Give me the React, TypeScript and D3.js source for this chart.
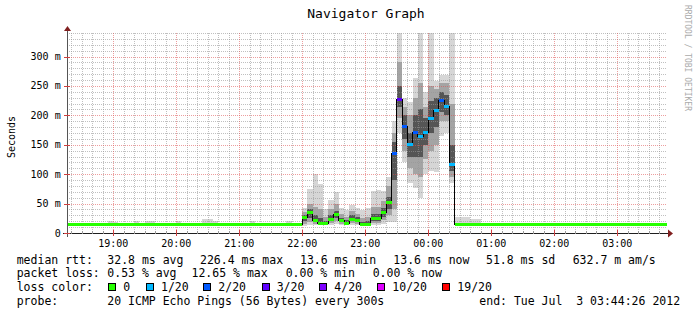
import React from 'react';
import * as d3 from 'd3';

const W = 697;
const H = 315;

const title = 'Navigator Graph';
const yAxisLabel = 'Seconds';
const watermark = 'RRDTOOL / TOBI OETIKER';

const yTickValues = [0, 50, 100, 150, 200, 250, 300];
const yTickLabels = ['0', '50 m', '100 m', '150 m', '200 m', '250 m', '300 m'];
const xTickHours = [19, 20, 21, 22, 23, 0, 1, 2, 3];
const xTickLabels = ['19:00', '20:00', '21:00', '22:00', '23:00', '00:00', '01:00', '02:00', '03:00'];

// 5-minute steps starting 2012-07-02 18:15
const stepStart = new Date(2012, 6, 2, 18, 15, 0);
const stepMinutes = 5;

// median rtt (ms) per step
const medianMs = [
  14, 14, 14, 14, 14, 14, 14, 14, 14, 14, 14, 14, 14, 14, 14,
  14, 14, 14, 14, 14, 14, 14, 14, 14, 14, 14, 14, 14, 14, 14,
  14, 14, 14, 14, 14, 14, 14, 14, 14, 14, 14, 14, 14, 14, 14,
  27, 34.5, 21, 16.4, 16.4, 23.7, 31.6, 21.5, 16.4, 23.7, 22, 14, 14, 25.4, 25.4,
  35, 52, 136, 226.4, 181, 150, 171, 164, 171, 194, 208.5, 225, 215, 116,
  14, 14, 14, 14, 14, 14, 14, 14, 14, 14, 14, 14, 14, 14, 14, 14, 14, 14, 14, 14,
  14, 14, 14, 14, 14, 14, 14, 14, 14, 14, 14, 14, 14, 14, 14, 14, 14, 14, 14, 14, 14,
];

// lost pings out of 20, per step
const lossCount = [
  0, 0, 0, 0, 0, 0, 0, 0, 0, 0, 0, 0, 0, 0, 0,
  0, 0, 0, 0, 0, 0, 0, 0, 0, 0, 0, 0, 0, 0, 0,
  0, 0, 0, 0, 0, 0, 0, 0, 0, 0, 0, 0, 0, 0, 0,
  0, 0, 0, 0, 0, 0, 0, 0, 0, 0, 0, 0, 0, 0, 0,
  0, 0, 2, 3, 2, 1, 2, 1, 1, 1, 1, 2, 1, 1,
  0, 0, 0, 0, 0, 0, 0, 0, 0, 0, 0, 0, 0, 0, 0, 0, 0, 0, 0, 0,
  0, 0, 0, 0, 0, 0, 0, 0, 0, 0, 0, 0, 0, 0, 0, 0, 0, 0, 0, 0, 0,
];

// smoke: lowest and highest ping per step (ms)
const smokeMin = [
  13, 13, 13, 13, 13, 13, 13, 13, 13, 13, 13, 13, 13, 13, 13,
  13, 13, 13, 13, 13, 13, 13, 13, 13, 13, 13, 13, 13, 13, 13,
  13, 13, 13, 13, 13, 13, 13, 13, 13, 13, 13, 13, 13, 13, 13,
  12, 14, 13, 13, 13, 14, 15, 14, 13, 14, 14, 13, 13, 14, 14,
  15, 18, 19, 170, 120, 85, 76, 59, 100, 105, 104, 165, 170, 85,
  13, 13, 13, 13, 13, 13, 13, 13, 13, 13, 13, 13, 13, 13, 13, 13, 13, 13, 13, 13,
  13, 13, 13, 13, 13, 13, 13, 13, 13, 13, 13, 13, 13, 13, 13, 13, 13, 13, 13, 13, 13,
];
const smokeMax = [
  15, 15, 15, 15, 15, 15, 15, 15, 20, 18, 15, 15, 15, 20, 15,
  21, 21, 15, 15, 15, 15, 20, 15, 15, 15, 15, 24, 24, 20, 15,
  15, 15, 15, 15, 15, 20, 15, 15, 15, 15, 15, 15, 20, 15, 15,
  42, 75, 101, 84, 40, 56, 70, 42, 39, 48, 42, 39, 42, 72, 73,
  72, 95, 190, 340, 230, 222, 264, 340, 240, 340, 258, 268, 268, 340,
  27, 27, 27, 24, 24, 15, 15, 15, 15, 15, 15, 15, 15, 15, 15, 15, 15, 15, 15, 15,
  15, 15, 15, 15, 15, 15, 15, 15, 15, 15, 15, 15, 15, 15, 15, 15, 15, 15, 15, 15, 15,
];

// busy period (steps 45..73): inner smoke layers
const busyFirstStep = 45;
const smokeMidLo = [15, 18, 16, 14, 14, 17, 20, 16, 14, 17, 16, 13.5, 14, 17, 17, 22, 30, 40, 195, 140, 110, 100, 95, 125, 140, 150, 190, 190, 95];
const smokeMidHi = [35, 50, 45, 40, 28, 40, 50, 32, 28, 38, 32, 25, 28, 45, 45, 55, 80, 170, 290, 215, 200, 230, 255, 215, 250, 245, 255, 255, 220];
const smokeCoreLo = [20, 25, 18, 15, 15, 20, 25, 18, 15, 20, 18, 14, 14, 20, 20, 28, 40, 90, 215, 160, 130, 130, 130, 150, 170, 180, 205, 200, 105];
const smokeCoreHi = [30, 40, 30, 25, 20, 30, 38, 26, 22, 30, 27, 19, 20, 32, 32, 42, 62, 155, 250, 200, 170, 200, 210, 195, 225, 230, 240, 235, 150];

const lossLevels = [0, 1, 2, 3, 4, 10, 19];
const lossLabels = ['0', '1/20', '2/20', '3/20', '4/20', '10/20', '19/20'];
const lossColors = ['#26ff00', '#00b8ff', '#0059ff', '#5e00ff', '#7e00ff', '#dd00ff', '#ff0000'];

const rttStats = ['32.8 ms avg', '226.4 ms max', '13.6 ms min', '13.6 ms now', '51.8 ms sd', '632.7 m am/s'];
const lossStats = ['0.53 % avg', '12.65 % max', '0.00 % min', '0.00 % now'];
const probeText = '20 ICMP Echo Pings (56 Bytes) every 300s';
const endText = 'end: Tue Jul  3 03:44:26 2012';

const FONT = "'DejaVu Sans Mono', monospace";

function colorForLoss(n: number) {
  let idx = 0;
  for (let j = 0; j < lossLevels.length; j++) if (n >= lossLevels[j]) idx = j;
  return lossColors[idx];
}

export default function App() {
  const left = 67, right = 667, top = 33, bottom = 233;
  const x = d3.scaleTime()
    .domain([new Date(2012, 6, 2, 18, 16, 0), new Date(2012, 6, 3, 3, 47, 20)])
    .range([left, right]);
  const y = d3.scaleLinear().domain([0, 340]).range([bottom, top]);
  const [t0, t1] = x.domain();

  const stepTime = (i: number) => new Date(stepStart.getTime() + i * stepMinutes * 60000);
  const steps = medianMs.map((m, i) => ({
    i,
    x0: Math.max(left, x(stepTime(i))),
    x1: Math.min(right, x(stepTime(i + 1))),
    m,
  })).filter(s => s.x1 > s.x0);

  const minor10 = d3.timeMinute.every(10)!.range(t0, t1).filter(d => d.getMinutes() !== 0);
  const hours = d3.timeHour.range(t0, t1);
  const hMinor = d3.range(10, 341, 10).filter(v => v % 50 !== 0);
  const hMajor = d3.range(50, 341, 50);

  const tickDate = (h: number) => new Date(2012, 6, h >= 12 ? 2 : 3, h, 0, 0);

  const lineData: [number, number][] = steps.map(s => [s.x0, y(s.m)] as [number, number]);
  const last = steps[steps.length - 1];
  lineData.push([last.x1, y(last.m)]);
  const stepLine = d3.line().curve(d3.curveStepAfter)(lineData) || '';

  const gridMinor = 'rgba(150,150,150,0.6)';
  const gridMajor = 'rgba(222,79,79,0.55)';

  const rttX = [107.3, 200, 300, 393.3, 486, 572.7];
  const lossX = [107.3, 191.5, 285.7, 372.7];
  const boxX = [108.3, 146, 203.3, 261.7, 319.3, 377.3, 442.3];
  const rowY = [263.5, 277.3, 291.1, 304.9];

  return (
    <svg width={W} height={H} style={{ position: 'absolute', left: 0, top: 0, background: '#fff' }}
      fontFamily={FONT}>
      <rect x={0} y={0} width={W} height={H} fill="#fff" />
      <defs>
        <clipPath id="plot"><rect x={left} y={top} width={right - left} height={bottom - top} /></clipPath>
      </defs>
      <text x={366} y={18} fontSize={13} textAnchor="middle" fill="#000">{title}</text>

      <g clipPath="url(#plot)" shapeRendering="crispEdges">
        {steps.map(s => (
          <rect key={'o' + s.i} x={s.x0} width={s.x1 - s.x0}
            y={y(smokeMax[s.i])} height={y(smokeMin[s.i]) - y(smokeMax[s.i])} fill="#d6d6d6" />
        ))}
        {steps.filter(s => s.i >= busyFirstStep && s.i < busyFirstStep + smokeMidLo.length).map(s => {
          const k = s.i - busyFirstStep;
          return (
            <g key={'b' + s.i}>
              <rect x={s.x0} width={s.x1 - s.x0} y={y(smokeMidHi[k])}
                height={y(smokeMidLo[k]) - y(smokeMidHi[k])} fill="#a4a4a4" />
              <rect x={s.x0} width={s.x1 - s.x0} y={y(smokeCoreHi[k])}
                height={y(smokeCoreLo[k]) - y(smokeCoreHi[k])} fill="#555555" />
            </g>
          );
        })}
      </g>

      <g shapeRendering="crispEdges" strokeDasharray="1 1" strokeWidth={1}>
        {minor10.map((d, i) => (
          <line key={'vm' + i} x1={Math.round(x(d)) + 0.5} x2={Math.round(x(d)) + 0.5} y1={top} y2={bottom} stroke={gridMinor} />
        ))}
        {hMinor.map(v => (
          <line key={'hm' + v} x1={left} x2={right} y1={Math.round(y(v)) + 0.5} y2={Math.round(y(v)) + 0.5} stroke={gridMinor} />
        ))}
        {hours.map((d, i) => (
          <line key={'vM' + i} x1={Math.round(x(d)) + 0.5} x2={Math.round(x(d)) + 0.5} y1={top} y2={bottom} stroke={gridMajor} />
        ))}
        {hMajor.map(v => (
          <line key={'hM' + v} x1={left} x2={right} y1={Math.round(y(v)) + 0.5} y2={Math.round(y(v)) + 0.5} stroke={gridMajor} />
        ))}
      </g>

      <g clipPath="url(#plot)">
        <path d={stepLine} fill="none" stroke="#000" strokeWidth={1} shapeRendering="crispEdges" />
        {steps.map(s => (
          <rect key={'m' + s.i} x={s.x0} width={s.x1 - s.x0} y={y(s.m) - 1.5} height={3}
            fill={colorForLoss(lossCount[s.i])} shapeRendering="crispEdges" />
        ))}
      </g>

      {/* axes */}
      <g shapeRendering="crispEdges">
        <line x1={left - 4} x2={right + 4} y1={bottom + 0.5} y2={bottom + 0.5} stroke="#1f1f1f" />
        <line x1={left + 0.5} x2={left + 0.5} y1={bottom + 4} y2={top - 3} stroke="#555" />
        {minor10.map((d, i) => (
          <line key={'tm' + i} x1={Math.round(x(d)) + 0.5} x2={Math.round(x(d)) + 0.5} y1={bottom - 2} y2={bottom + 1} stroke="#999" />
        ))}
        {hours.map((d, i) => (
          <line key={'tM' + i} x1={Math.round(x(d)) + 0.5} x2={Math.round(x(d)) + 0.5} y1={bottom - 3} y2={bottom + 3} stroke="#d04040" />
        ))}
        {yTickValues.map(v => (
          <line key={'yt' + v} x1={left - 3} x2={left + 3} y1={Math.round(y(v)) + 0.5} y2={Math.round(y(v)) + 0.5} stroke="#d04040" />
        ))}
      </g>
      <path d={`M${right + 1},${bottom - 3.5} L${right + 6},${bottom + 0.5} L${right + 1},${bottom + 4.5} Z`} fill="#801f1f" />
      <path d={`M${left - 3},${top - 2} L${left + 0.5},${top - 7} L${left + 4},${top - 2} Z`} fill="#801f1f" />

      {yTickValues.map((v, i) => (
        <text key={'yl' + v} x={60.7} y={y(v) + 3.5} fontSize={10} textAnchor="end" fill="#000">{yTickLabels[i]}</text>
      ))}
      {xTickHours.map((h, i) => (
        <text key={'xl' + h} x={x(tickDate(h))} y={246.5} fontSize={10} textAnchor="middle" fill="#000">{xTickLabels[i]}</text>
      ))}
      <text transform="translate(14.5,137) rotate(-90)" fontSize={10} textAnchor="middle" fill="#000">{yAxisLabel}</text>
      <text transform="translate(685,5) rotate(90)" fontSize={8} fill="#aaa">{watermark}</text>

      <g fontSize={11.5} fill="#000">
        <text x={16.7} y={rowY[0]}>median rtt:</text>
        {rttStats.map((s, i) => <text key={'r' + i} x={rttX[i]} y={rowY[0]}>{s}</text>)}
        <text x={16.7} y={rowY[1]}>packet loss:</text>
        {lossStats.map((s, i) => <text key={'l' + i} x={lossX[i]} y={rowY[1]}>{s}</text>)}
        <text x={16.7} y={rowY[2]}>loss color:</text>
        {lossLabels.map((s, i) => (
          <g key={'c' + i}>
            <rect x={Math.round(boxX[i]) + 0.5} y={283.5} width={7} height={7} fill={lossColors[i]} stroke="#000" shapeRendering="crispEdges" />
            <text x={boxX[i] + 15} y={rowY[2]}>{s}</text>
          </g>
        ))}
        <text x={16.7} y={rowY[3]}>probe:</text>
        <text x={107.3} y={rowY[3]}>{probeText}</text>
        <text x={479.3} y={rowY[3]} xmlSpace="preserve" style={{ whiteSpace: 'pre' }}>{endText}</text>
      </g>
    </svg>
  );
}
